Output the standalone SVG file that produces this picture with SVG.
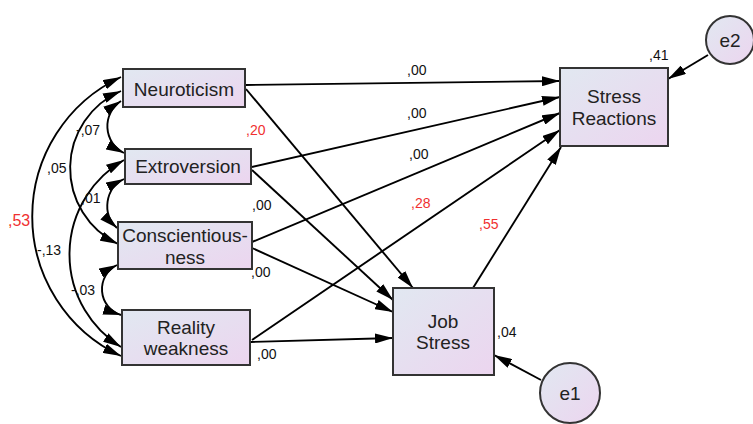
<svg xmlns="http://www.w3.org/2000/svg" width="753" height="424" viewBox="0 0 753 424">
<defs>
<linearGradient id="g" x1="0" y1="0" x2="1" y2="1">
<stop offset="0" stop-color="#e1e8f1"/>
<stop offset="1" stop-color="#ecd5ef"/>
</linearGradient>
<marker id="a" viewBox="0 0 18 10" refX="18" refY="5" markerWidth="18" markerHeight="10" markerUnits="userSpaceOnUse" orient="auto-start-reverse">
<path d="M0,0 L18,5 L0,10 z" fill="#000"/>
</marker>
</defs>
<style>
.box{fill:url(#g);stroke:#333;stroke-width:2}
.t{font-family:"Liberation Sans",Arial,sans-serif;font-size:19px;fill:#222;text-anchor:middle}
.l{font-family:"Liberation Sans",Arial,sans-serif;font-size:14px;fill:#111}
.r{fill:#f03030}
.c{fill:none;stroke:#000;stroke-width:1.9}
</style>
<rect width="753" height="424" fill="#fff"/>
<g id="connectors">
<path class="c" d="M246,85 L560,81" marker-end="url(#a)"/>
<path class="c" d="M246,89 L413,288" marker-end="url(#a)"/>
<path class="c" d="M252,167 L560,97" marker-end="url(#a)"/>
<path class="c" d="M252,170 L393,300" marker-end="url(#a)"/>
<path class="c" d="M252,242 L560,113" marker-end="url(#a)"/>
<path class="c" d="M252,248 L393,312" marker-end="url(#a)"/>
<path class="c" d="M252,340 L560,130" marker-end="url(#a)"/>
<path class="c" d="M251,342 L393,338" marker-end="url(#a)"/>
<path class="c" d="M473,288 L561,147" marker-end="url(#a)"/>
<path class="c" d="M708,55 L668,79" marker-end="url(#a)"/>
<path class="c" d="M541,380 L494,355" marker-end="url(#a)"/>
<path class="c" d="M121,77 A154,154 0 0,0 121,356" marker-start="url(#a)" marker-end="url(#a)"/>
<path class="c" d="M121,91 A84,84 0 0,0 118,244" marker-start="url(#a)" marker-end="url(#a)"/>
<path class="c" d="M124,160 A109,109 0 0,0 121,347" marker-start="url(#a)" marker-end="url(#a)"/>
<path class="c" d="M121,101 A30,30 0 0,0 124,153" marker-start="url(#a)" marker-end="url(#a)"/>
<path class="c" d="M124,179 A30,30 0 0,0 117,228" marker-start="url(#a)" marker-end="url(#a)"/>
<path class="c" d="M117,265 A27,27 0 0,0 121,315" marker-start="url(#a)" marker-end="url(#a)"/>
</g>
<g id="neuroticism"><rect class="box" x="123" y="69" width="122" height="38"/><text class="t" x="184" y="96">Neuroticism</text></g>
<g id="extroversion"><rect class="box" x="125" y="149" width="126" height="35"/><text class="t" x="188" y="173">Extroversion</text></g>
<g id="conscientiousness"><rect class="box" x="118" y="222" width="134" height="47"/><text class="t" x="185" y="242">Conscientious-</text><text class="t" x="185" y="264">ness</text></g>
<g id="reality"><rect class="box" x="122" y="310" width="128" height="55"/><text class="t" x="186" y="334">Reality</text><text class="t" x="186" y="355">weakness</text></g>
<g id="stress-reactions"><rect class="box" x="560" y="68" width="108" height="78"/><text class="t" x="614" y="103">Stress</text><text class="t" x="614" y="125">Reactions</text></g>
<g id="job-stress"><rect class="box" x="393" y="288" width="101" height="87"/><text class="t" x="443" y="328">Job</text><text class="t" x="443" y="349">Stress</text></g>
<g id="e2"><circle class="box" cx="730" cy="40" r="24"/><text class="t" x="730" y="47">e2</text></g>
<g id="e1"><circle class="box" cx="570" cy="393" r="30"/><text class="t" x="570" y="400">e1</text></g>
<g id="labels">
<text class="l" x="407" y="75">,00</text>
<text class="l" x="407" y="118">,00</text>
<text class="l r" x="246" y="135">,20</text>
<text class="l" x="409" y="159">,00</text>
<text class="l" x="252" y="210">,00</text>
<text class="l r" x="411" y="208">,28</text>
<text class="l r" x="479" y="229">,55</text>
<text class="l" x="251" y="277">,00</text>
<text class="l" x="257" y="359">,00</text>
<text class="l" x="497" y="337">,04</text>
<text class="l" x="649" y="60">,41</text>
<text class="l r" x="8" y="226" style="font-size:16px">,53</text>
<text class="l" x="47" y="173">,05</text>
<text class="l" x="37" y="255">-,13</text>
<text class="l" x="76" y="135">-,07</text>
<text class="l" x="81" y="203">,01</text>
<text class="l" x="71" y="295">-,03</text>
</g>
</svg>
